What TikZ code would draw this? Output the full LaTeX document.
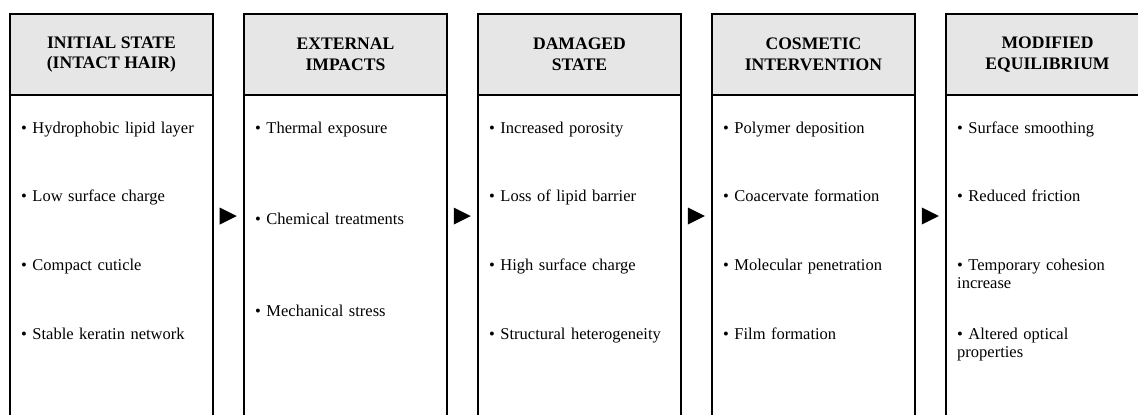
\documentclass[tikz,border=0pt]{standalone}
\usepackage{fontspec}
\setmainfont{Liberation Serif}
\usetikzlibrary{positioning,calc,shapes.geometric}
\definecolor{hdr}{HTML}{E6E6E6}
\newcommand{\hfont}{\fontsize{17.6}{20.5}\selectfont\bfseries}
\newcommand{\bfont}{\fontsize{16.5}{18.5}\selectfont\hyphenpenalty=10000\exhyphenpenalty=10000}
\tikzset{
  head/.style={draw=black,line width=2pt,fill=hdr,minimum width=203pt,minimum height=81pt,inner sep=0pt,outer sep=0pt,align=center,font=\hfont},
  body/.style={draw=black,line width=2pt,fill=white,minimum width=203pt,minimum height=345pt,inner sep=0pt,outer sep=0pt},
  itm/.style={anchor=base west,inner sep=0pt,text width=174pt,align=left,font=\bfont},
  tri/.style={isosceles triangle,isosceles triangle stretches,fill=black,inner sep=0pt,minimum width=17pt,minimum height=17pt},
}

\begin{document}
\begin{tikzpicture}[x=1pt,y=1pt]
\clip (0,0) rectangle (1138,-415);
% five stages, left to right
\node[head] (h1) at (111.5,-54.5) {INITIAL STATE\\(INTACT HAIR)};
\node[head,right=31pt of h1] (h2) {EXTERNAL\\IMPACTS};
\node[head,right=31pt of h2] (h3) {DAMAGED\\STATE};
\node[head,right=31pt of h3] (h4) {COSMETIC\\INTERVENTION};
\node[head,right=31pt of h4] (h5) {MODIFIED\\EQUILIBRIUM};
\node[body,below=0pt of h1] (b1) {};
\node[body,below=0pt of h2] (b2) {};
\node[body,below=0pt of h3] (b3) {};
\node[body,below=0pt of h4] (b4) {};
\node[body,below=0pt of h5] (b5) {};
% items
\node[itm] (p11) at ($(b1.north west)+(11,-38)$) {• Hydrophobic lipid layer};
\node[itm] (p12) at ($(b1.north west)+(11,-106.7)$) {• Low surface charge};
\node[itm] (p13) at ($(b1.north west)+(11,-175.4)$) {• Compact cuticle};
\node[itm] (p14) at ($(b1.north west)+(11,-244)$) {• Stable keratin network};
\node[itm] (p21) at ($(b2.north west)+(11,-38)$) {• Thermal exposure};
\node[itm] (p22) at ($(b2.north west)+(11,-129.5)$) {• Chemical treatments};
\node[itm] (p23) at ($(b2.north west)+(11,-221)$) {• Mechanical stress};
\node[itm] (p31) at ($(b3.north west)+(11,-38)$) {• Increased porosity};
\node[itm] (p32) at ($(b3.north west)+(11,-106.7)$) {• Loss of lipid barrier};
\node[itm] (p33) at ($(b3.north west)+(11,-175.4)$) {• High surface charge};
\node[itm] (p34) at ($(b3.north west)+(11,-244)$) {• Structural heterogeneity};
\node[itm] (p41) at ($(b4.north west)+(11,-38)$) {• Polymer deposition};
\node[itm] (p42) at ($(b4.north west)+(11,-106.7)$) {• Coacervate formation};
\node[itm] (p43) at ($(b4.north west)+(11,-175.4)$) {• Molecular penetration};
\node[itm] (p44) at ($(b4.north west)+(11,-244)$) {• Film formation};
\node[itm] (p51) at ($(b5.north west)+(11,-38)$) {• Surface smoothing};
\node[itm] (p52) at ($(b5.north west)+(11,-106.7)$) {• Reduced friction};
\node[itm] (p53) at ($(b5.north west)+(11,-175.4)$) {• Temporary cohesion increase};
\node[itm] (p54) at ($(b5.north west)+(11,-244)$) {• Altered optical properties};
% arrows between stages
\node[tri] (a1) at ($(h1.east)!0.5!(h2.west)+(-3.5,-161.5)$) {};
\node[tri] (a2) at ($(h2.east)!0.5!(h3.west)+(-3.5,-161.5)$) {};
\node[tri] (a3) at ($(h3.east)!0.5!(h4.west)+(-3.5,-161.5)$) {};
\node[tri] (a4) at ($(h4.east)!0.5!(h5.west)+(-3.5,-161.5)$) {};
\end{tikzpicture}
\end{document}
